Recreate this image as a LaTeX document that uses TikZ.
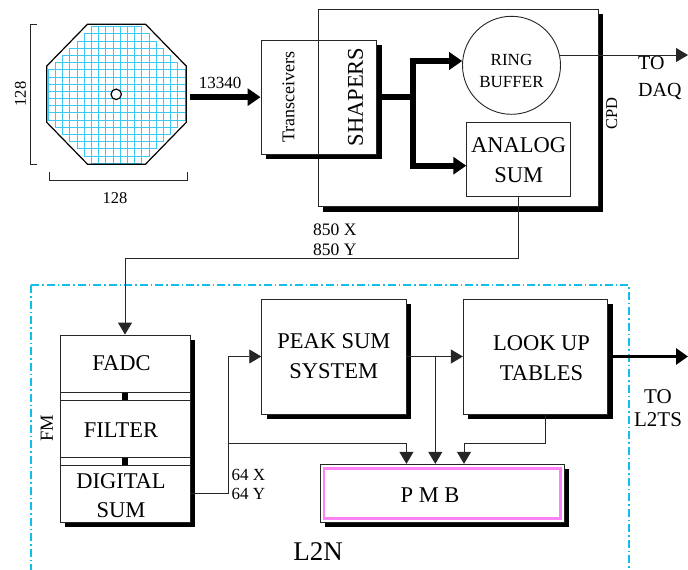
\documentclass[tikz,border=0pt]{standalone}
\usepackage{fontspec}
\setmainfont{Liberation Serif}
\usetikzlibrary{arrows.meta,shadows,calc}
\definecolor{gridc}{RGB}{60,200,240}
\definecolor{framec}{RGB}{20,190,235}
\definecolor{pmbc}{RGB}{255,130,245}
\newcommand{\FsBig}{\fontsize{22.5}{30}\selectfont}
\newcommand{\FsCol}{\fontsize{22.5}{28.5}\selectfont}
\newcommand{\FsMid}{\fontsize{20}{26.6}\selectfont}
\newcommand{\FsRing}{\fontsize{17}{21.7}\selectfont}
\newcommand{\FsSml}{\fontsize{17.5}{20}\selectfont}
\newcommand{\FsSix}{\fontsize{17}{18.8}\selectfont}
\newcommand{\FsLab}{\fontsize{16.5}{20}\selectfont}
\begin{document}
\begin{tikzpicture}[x=1pt,y=-1pt,
  box/.style={draw=black!85, line width=0.9pt, fill=white, inner sep=0pt},
  shad/.style={general shadow={shadow xshift=5pt, shadow yshift=-5pt, fill=black, draw=none}},
  conn/.style={draw=black!85, line width=0.9pt},
  arr/.style={conn, -{Triangle[length=12pt,width=14pt]}},
  bigarr/.style={draw=black, line width=6pt, line join=miter, -{Triangle[length=13pt,width=17pt]}},
  medarr/.style={draw=black, line width=3.5pt, -{Triangle[length=12pt,width=16pt]}},
  txt/.style={inner sep=0pt, align=center}]
\useasboundingbox (0,0) rectangle (688,570);

% detector grid
\def\cc{7.19}
\foreach \i in {-9,...,9}{
  \foreach \j in {-9,...,9}{
    \pgfmathtruncatemacro\s{abs(\i)+abs(\j)}
    \ifnum\s<13
      \draw[gridc, line width=1pt] ({116.7+(\i-0.5)*\cc},{95+(\j-0.5)*\cc}) rectangle ++(\cc,\cc);
    \fi
  }
}
\draw[black, line width=1.2pt] (87.5,24.2) -- (145.5,24.2) -- (186.2,66) -- (186.2,122.4) -- (145.5,164.2) -- (87.5,164.2) -- (46.8,122.4) -- (46.8,66) -- cycle;
\draw[black, line width=1.2pt, fill=white] (116.2,94.3) circle (5.2);
% dimension brackets
\draw[black!85, line width=0.9pt] (36.7,24) -- (30.7,24) -- (30.7,164.3) -- (36.7,164.3);
\draw[black!85, line width=0.9pt] (49,172.3) -- (49,180) -- (187.3,180) -- (187.3,172.3);
\node[txt, font=\FsLab, rotate=90] (dimv) at (20.5,94) {128};
\node[txt, font=\FsLab] (dimh) at (115,198) {128};

% CPD
\node[box, shad, minimum width=280pt, minimum height=197.4pt] (cpd) at (458.3,108) {};
\node[txt, font=\FsLab, rotate=90] (cpdl) at (611.7,113.3) {CPD};
\node[box, shad, minimum width=57.3pt, minimum height=114.3pt] (trx) at (289.65,97.15) {};
\node[box, shad, minimum width=58.4pt, minimum height=114.3pt] (shp) at (347.5,97.15) {};
\node[txt, font=\fontsize{18}{20}\selectfont, rotate=90] (trxl) at (288.5,97) {Transceivers};
\node[txt, font=\FsBig, rotate=90] (shpl) at (355.5,97) {SHAPERS};
\node[box, circle, minimum size=98pt] (ring) at (511.5,65.3) {};
\node[txt, font=\FsRing] (ringl) at (511.5,70.8) {RING\\BUFFER};
\node[box, minimum width=104pt, minimum height=74pt, font=\FsBig, align=center] (asum) at (518.7,159.7) {ANALOG\\SUM};

\coordinate (src) at (190,97.15);
\coordinate (jn) at (413.3,97.15);
\coordinate (daq) at (688,0);
\draw[bigarr] (src) -- (trx.west);
\node[txt, font=\fontsize{17}{20}\selectfont] (n13340) at (220,83.3) {13340};
\draw[draw=black, line width=6pt] (shp.east) -- (jn);
\draw[bigarr] (jn) |- (ring.175);
\draw[bigarr] (jn) |- ([yshift=-6pt]asum.west);
\draw[arr] (ring.12) -- (ring.12 -| daq);
\node[txt, font=\FsMid, align=left, anchor=west] (todaq) at (638,78) {TO\\DAQ};

% L2N frame
\draw[framec, line width=1.1pt, dash pattern=on 8pt off 3pt on 1.5pt off 3pt] (31,285) rectangle (629,590);
\node[txt, font=\fontsize{27}{30}\selectfont] (l2n) at (318,551.7) {L2N};

% FM column
\node[box, shad, minimum width=130pt, minimum height=187.3pt] (fm) at (125,428.65) {};
\node[box, minimum width=130pt, minimum height=57.3pt] (fadc) at (125,363.65) {};
\node[box, minimum width=130pt, minimum height=57.3pt] (filt) at (125,428.65) {};
\node[box, minimum width=130pt, minimum height=57.3pt] (dsum) at (125,493.65) {};
\node[txt, font=\FsCol] (fadcl) at (121.5,363.3) {FADC};
\node[txt, font=\FsCol] (filtl) at (121,430) {FILTER};
\node[txt, font=\FsCol] (dsuml) at (121,495.9) {DIGITAL\\SUM};
\draw[black, line width=5.5pt] (fadc.south) -- (filt.north);
\draw[black, line width=5.5pt] (filt.south) -- (dsum.north);
\node[txt, font=\fontsize{18.5}{20}\selectfont, rotate=90] (fml) at (46.7,428.3) {FM};

% Processing boxes
\node[box, shad, minimum width=144.3pt, minimum height=115pt, font=\FsBig, align=center] (peak) at (333.85,356.5) {PEAK SUM\\SYSTEM};
\node[box, shad, minimum width=144.4pt, minimum height=115pt] (look) at (535.5,356.5) {};
\node[txt, font=\FsBig] (lookl) at (541.5,358.3) {LOOK UP\\TABLES};
\node[box, shad, minimum width=244.3pt, minimum height=58pt] (pmb) at (442.15,493.3) {};
\draw[pmbc, line width=2.5pt] ([shift={(4.5pt,-4.5pt)}]pmb.north west) rectangle ([shift={(-4.5pt,4.5pt)}]pmb.south east);
\node[txt, font=\FsBig] (pmbl) at (430,495) {P M B};

% connectors
\coordinate (k850) at (asum.south |- 0,258.3);
\draw[arr] (asum.south) -- (k850) -| (fadc.north);
\node[txt, font=\FsSml, align=left, anchor=west] (n850) at (313,239.3) {850 X\\850 Y};
\coordinate (b1) at (228.3,443.3);
\draw[arr] (dsum.east) -| (b1) |- (peak.west);
\node[txt, font=\FsSix, align=left, anchor=west] (n64) at (231.5,484.5) {64 X\\64 Y};
\draw[arr] (b1) -| (pmb.north -| peak.east);
\draw[arr] (peak.east) -- (look.west);
\coordinate (b2) at (435.3,356.5);
\draw[arr] (b2) -- (b2 |- pmb.north);
\coordinate (b3) at (464,443.3);
\draw[arr] ([xshift=9.5pt]look.south) |- (b3) -- (b3 |- pmb.north);
\coordinate (l2ts) at (688,0);
\draw[medarr] (look.east) -- (look.east -| l2ts);
\node[txt, font=\fontsize{21}{22.6}\selectfont] (tol2ts) at (658,408) {TO\\L2TS};
\end{tikzpicture}
\end{document}
